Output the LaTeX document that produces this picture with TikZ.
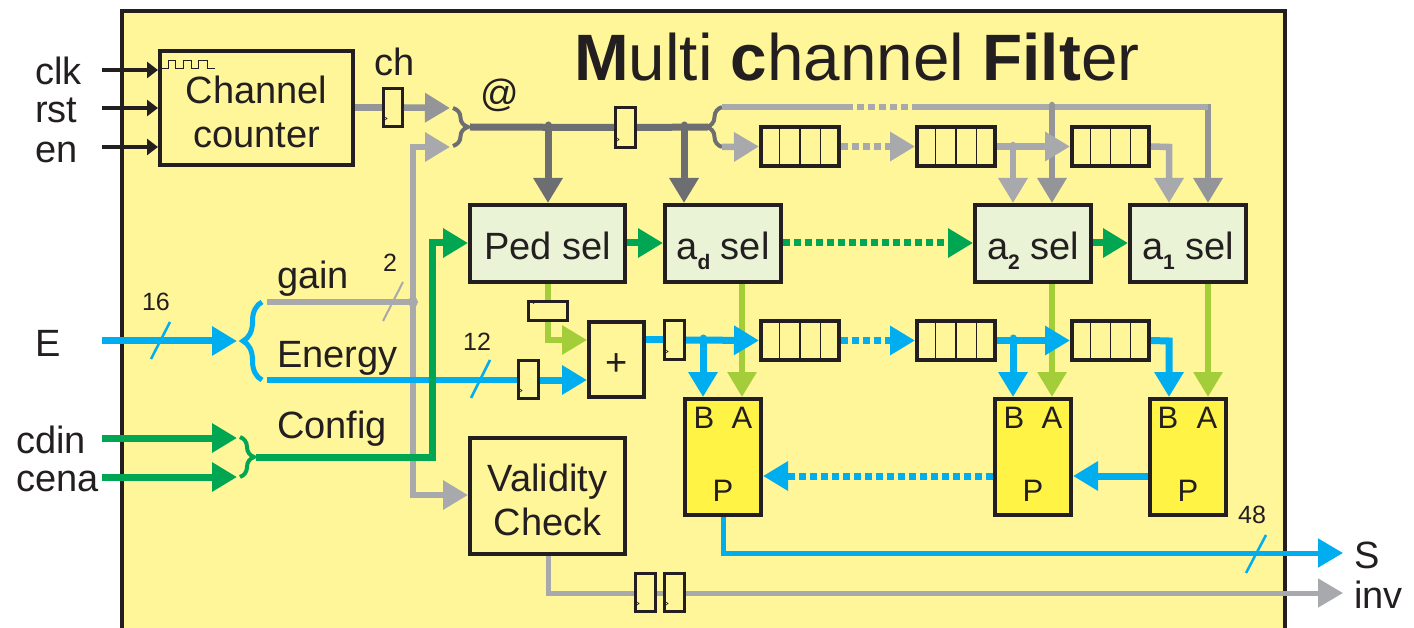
\documentclass[tikz,border=0pt]{standalone}
\usepackage{fontspec}
\setmainfont{Liberation Sans}
\usetikzlibrary{arrows.meta,decorations.pathreplacing,calc}
\definecolor{ink}{HTML}{231F20}
\definecolor{pale}{HTML}{FFF599}
\definecolor{selfill}{HTML}{EBF3D7}
\definecolor{mulfill}{HTML}{FFF345}
\definecolor{gA}{HTML}{A7A9AC}
\definecolor{gB}{HTML}{939598}
\definecolor{gC}{HTML}{6D6E71}
\definecolor{grn}{HTML}{00A651}
\definecolor{lgrn}{HTML}{A3CE39}
\definecolor{blu}{HTML}{00AEEF}
\newcommand{\fs}[1]{\fontsize{#1}{#1}\selectfont}
\newcommand{\subs}[1]{\smash{\raisebox{-10pt}{\fs{21}\textbf{#1}}}}
\newcommand{\blk}[7][]{\node[boxn,#1,minimum width={(#5)-(#3)-4},minimum height={(#6)-(#4)-4},align=center] (#2) at ({((#5)+(#3))/2},{((#6)+(#4))/2}) {#7};}
\newcommand{\reg}[5]{\node[regn,minimum width={(#4)-(#2)-3},minimum height={(#5)-(#3)-3}] (#1) at ({((#4)+(#2))/2},{((#5)+(#3))/2}) {};
  \draw[clk] ([shift={(3,-11)}]#1.south west) -- ++(2,1.5) -- ++(-2,1.5);}
\newcommand{\sreg}[5]{\node[regn,minimum width={(#4)-(#2)-4},minimum height={(#5)-(#3)-4},line width=4pt] (#1) at ({((#4)+(#2))/2},{((#5)+(#3))/2}) {};
  \foreach \f in {0.25,0.5,0.75}{\draw[ink,line width=1.2pt] ($(#1.north west)!\f!(#1.north east)$) -- ($(#1.south west)!\f!(#1.south east)$);}}
\tikzset{
  boxn/.style={draw=ink,line width=4pt,fill=pale,inner sep=0pt,text=ink,font=\fs{38}},
  regn/.style={draw=ink,line width=3pt,fill=pale,inner sep=0pt},
  clk/.style={ink,line width=0.6pt},
  lbl/.style={text=ink,font=\fs{38},inner sep=0pt},
  small/.style={text=ink,font=\fs{25},inner sep=0pt},
  pin/.style={text=ink,font=\fs{31},inner sep=0pt},
  big/.style={-{Triangle[length=25pt,width=28pt]}},
  thin arrow/.style={ink,line width=3.5pt,-{Triangle[length=11pt,width=16pt]}},
  dots/.style={dash pattern=on 7pt off 4pt},
  wg/.style={gA,line width=6.5pt},
  wh/.style={gB,line width=6.5pt},
  wd/.style={gC,line width=7pt},
  wgr/.style={grn,line width=7pt},
  wl/.style={lgrn,line width=6pt},
  wb/.style={blu,line width=7pt},
  wbt/.style={blu,line width=5pt},
  tick/.style={line width=2pt},
}
\begin{document}
\begin{tikzpicture}[x=1pt,y=-1pt]
\useasboundingbox (0,0) rectangle (1414,628);
% frame
\fill[pale] (121,11) rectangle (1285,628);
\draw[ink,line width=4pt] (121.5,628) -- (121.5,11) -- (1285,11) -- (1285,628);
\node[anchor=base west,inner sep=0pt,text=ink,font=\fs{65.6}] (title) at (574,80.5) {\textbf{M}ulti \textbf{c}hannel \textbf{Filt}er};
% blocks
\blk{chan}{158}{49}{355}{167}{\rule{0pt}{35pt}Channel\\[6pt]counter}
\blk[fill=selfill]{ped}{468}{203}{627}{284}{\rule{0pt}{32pt}Ped sel}
\blk[fill=selfill]{ad}{663}{203}{783}{284}{\rule{0pt}{32pt}a\subs{d} sel}
\blk[fill=selfill]{atwo}{973}{203}{1093}{284}{\rule{0pt}{32pt}a\subs{2} sel}
\blk[fill=selfill]{aone}{1128}{203}{1248}{284}{\rule{0pt}{32pt}a\subs{1} sel}
\blk{plus}{587}{320}{646}{399}{\rule{0pt}{31pt}+}
\blk{valid}{468}{436}{627}{556}{\rule{0pt}{36pt}Validity\\[6pt]Check}
\blk[fill=mulfill]{mulA}{683}{397}{763}{517}{}
\blk[fill=mulfill]{mulB}{993}{397}{1073}{517}{}
\blk[fill=mulfill]{mulC}{1148}{397}{1228}{517}{}
\foreach \m/\bxx/\axx/\pxx in {A/704/742/723,B/1014/1052/1033,C/1168/1207/1188}{
  \node[pin] (B\m) at (\bxx,418) {B};
  \node[pin] (A\m) at (\axx,418) {A};
  \node[pin] (P\m) at (\pxx,491) {P};
}
% registers
\reg{rch}{382}{87}{404}{128}
\reg{rbus}{614}{106}{637}{149}
\reg{ren}{517}{359}{540}{400}
\reg{rsum}{663}{319}{686}{361}
\reg{rva}{634}{572}{657}{613}
\reg{rvb}{663}{572}{686}{613}
\node[regn,minimum width=39pt,minimum height=19pt] (rped) at (548,311) {};
\draw[clk] ([shift={(5,2)}]rped.north west) arc (180:-150:1.5);
% shift registers
\sreg{sa}{759}{125}{841}{168}
\sreg{sb}{915}{125}{997}{168}
\sreg{sc}{1070}{125}{1151}{168}
\sreg{ta}{759}{319}{841}{362}
\sreg{tb}{915}{319}{997}{362}
\sreg{tc}{1070}{319}{1151}{362}
% clock wave
\draw[ink,line width=1pt] (162,69) -- (168,69) -- (168,61) -- (175,61) -- (175,69) -- (183,69) -- (183,61) -- (191,61) -- (191,69) -- (198,69) -- (198,61) -- (207,61) -- (207,69) -- (215,69);
% input labels
\node[lbl,anchor=base west] (lclk) at (35,85) {clk};
\node[lbl,anchor=base west] (lrst) at (35,123) {rst};
\node[lbl,anchor=base west] (len) at (35,163) {en};
\node[lbl,anchor=base west] (lE) at (35,356) {E};
\node[lbl,anchor=base west] (lcdin) at (16,453) {cdin};
\node[lbl,anchor=base west] (lcena) at (16,491) {cena};
\node[lbl,anchor=base west] (lS) at (1354,568) {S};
\node[lbl,anchor=base west] (linv) at (1354,608) {inv};
\node[lbl,anchor=base west] (lch) at (374,76) {ch};
\node[lbl,anchor=base west] (lat) at (480,107) {@};
\node[lbl,anchor=base west] (lgain) at (277,289) {gain};
\node[lbl,anchor=base west] (lenergy) at (277,367) {Energy};
\node[lbl,anchor=base west] (lconfig) at (277,438) {Config};
\node[small] (n16) at (156,302) {16};
\node[small] (n2) at (390,263) {2};
\node[small] (n12) at (477,342) {12};
\node[small] (n48) at (1252,515) {48};
% free ends
\coordinate (iclk) at (102,70);
\coordinate (irst) at (102,108);
\coordinate (ien) at (102,147);
\coordinate (iE) at (102,341);
\coordinate (icdin) at (102,438);
\coordinate (icena) at (102,477);
\coordinate (braIn) at (450,147);
\coordinate (braOut) at (470,127);
\coordinate (brbIn) at (708,127);
\coordinate (brbUp) at (722,107);
\coordinate (brbLo) at (722,147);
\coordinate (tipE) at (237,341);
\coordinate (gainS) at (267,302);
\coordinate (enS) at (267,380);
\coordinate (tipcd) at (237,438);
\coordinate (tipce) at (237,477);
\coordinate (cfgS) at (256,457);
\coordinate (dotG) at (413,302);
\coordinate (oS) at (1343,553);
\coordinate (oI) at (1343,593);
% clock, reset, enable
\draw[thin arrow] (iclk) -- (iclk -| chan.west);
\draw[thin arrow] (irst) -- (irst -| chan.west);
\draw[thin arrow] (ien) -- (ien -| chan.west);
% ch path
\draw[wh] (chan.east |- rch) -- (rch.west);
\draw[wh,big] (rch.east) -- (450,108);
% gain line and vertical
\draw[wg] (gainS) -- (dotG);
\draw[wg,big] (dotG) -- (413,147) -- (braIn);
\draw[wg,big] (dotG) -- (413,495) -- (valid.west |- 0,495);
\fill[gA] (dotG) circle (5);
\draw[gA,tick] (403,282) -- (383,321);
% braces
\draw[gC,line width=4pt,decorate,decoration={brace,amplitude=15pt}] (453,108) -- (453,146);
\draw[gC,line width=4pt,decorate,decoration={brace,amplitude=15pt}] (722,147) -- (722,107);
\draw[blu,line width=5pt,decorate,decoration={brace,amplitude=19pt}] (262,380) -- (262,302);
\draw[grn,line width=4pt,decorate,decoration={brace,amplitude=14pt}] (240,437) -- (240,477);
% @ bus
\draw[wd] (braOut) -- (rbus.west);
\draw[wd] (rbus.east) -- (brbIn);
\coordinate (j1) at (548,125);
\coordinate (j2) at (684,125);
\draw[wd,big,line cap=round] (j1) -- (j1 |- ped.north);
\draw[wd,big,line cap=round] (j2) -- (j2 |- ad.north);
% upper gray
\coordinate (j4) at (1052,105);
\coordinate (t1) at (846,107);
\coordinate (t2) at (915,107);
\coordinate (j3) at (1013,145);
\draw[wg] (brbUp) -- (t1);
\draw[wg,dots] (t1) -- (t2);
\draw[wh,big] (t2) -- (1208,107) -- (1208,0 |- aone.north);
\draw[wg] (t2) -- (1208,107);
\draw[wh,big,line cap=round] (j4) -- (j4 |- atwo.north);
\draw[wg,big] (brbLo) -- (sa.west);
\draw[wg,big,dots] (sa.east) -- (sb.west);
\draw[wg,big] (sb.east) -- (sc.west);
\draw[wg,big,line cap=round] (j3) -- (j3 |- atwo.north);
\draw[wg,big] (sc.east) -- (1169,147) -- (1169,0 |- aone.north);
% green config
\draw[wgr,big] (icdin) -- (tipcd);
\draw[wgr,big] (icena) -- (tipce);
% light green
\draw[wl] (ped.south -| rped) -- (rped.north);
\draw[wl,big] (rped.south) -- (548,340) -- (plus.west |- 0,340);
\draw[wl,big] (742,0 |- ad.south) -- (742,0 |- mulA.north);
\draw[wl,big] (1052,0 |- atwo.south) -- (1052,0 |- mulB.north);
\draw[wl,big] (1208,0 |- aone.south) -- (1208,0 |- mulC.north);
% blue
\draw[wb,big] (iE) -- (tipE);
\draw[blu,line width=2.5pt] (170,322) -- (151,359);
\draw[blu,line width=6pt] (enS) -- (ren.west |- enS);
\draw[blu,line width=2.5pt] (490,360) -- (471,398);
\draw[wb,big] (ren.east |- enS) -- (plus.west |- enS);
\draw[wb] (plus.east |- rsum) -- (rsum.west);
\draw[wb,big] (rsum.east) -- (ta.west);
\coordinate (k1) at (703,338);
\coordinate (k2) at (1013,338);
\draw[wb,big,line cap=round] (k1) -- (k1 |- mulA.north);
\draw[wb,big,dots] (ta.east) -- (tb.west);
\draw[wb,big] (tb.east) -- (tc.west);
\draw[wb,big,line cap=round] (k2) -- (k2 |- mulB.north);
\draw[wb,big] (tc.east) -- (1169,341) -- (1169,0 |- mulC.north);
% green selectors
\draw[wgr,big] (cfgS) -- (432,457) -- (432,243) -- (ped.west |- 0,243);
\draw[wgr,big] (ped.east |- 0,243) -- (ad.west |- 0,243);
\draw[wgr,big,dots] (ad.east |- 0,243) -- (atwo.west |- 0,243);
\draw[wgr,big] (atwo.east |- 0,243) -- (aone.west |- 0,243);
% products
\draw[wb,big] (mulC.west |- 0,476) -- (mulB.east |- 0,476);
\draw[wb,big,dots] (mulB.west |- 0,476) -- (mulA.east |- 0,476);
\draw[wbt,big] (723,0 |- mulA.south) -- (723,553) -- (oS);
\draw[blu,line width=2.5pt] (1266,535) -- (1246,573);
% validity output
\draw[wg,line width=5pt] (548,0 |- valid.south) -- (548,593) -- (rva.west |- 0,593);
\draw[wg,line width=5pt] (rva.east |- 0,593) -- (rvb.west |- 0,593);
\draw[wg,line width=5pt,big] (rvb.east |- 0,593) -- (oI);
\end{tikzpicture}
\end{document}
